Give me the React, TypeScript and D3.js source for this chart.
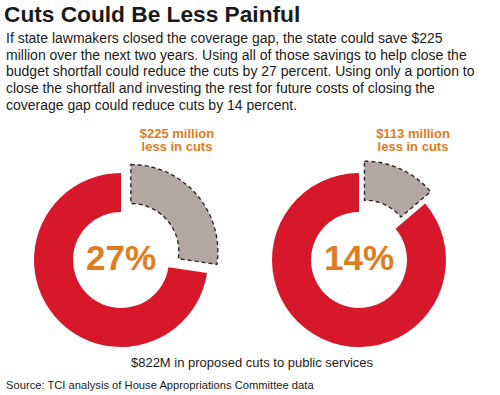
import * as d3 from "d3";

// cuts data ($ millions)
const totalCuts = 822;
const scenarios = ["all", "portion"];
const savings = [225, 113];
const labelLines = [
  ["$225 million", "less in cuts"],
  ["$113 million", "less in cuts"],
];

const title = "Cuts Could Be Less Painful";
const bodyLines = [
  "If state lawmakers closed the coverage gap, the state could save $225",
  "million over the next two years. Using all of those savings to help close the",
  "budget shortfall could reduce the cuts by 27 percent. Using only a portion to",
  "close the shortfall and investing the rest for future costs of closing the",
  "coverage gap could reduce cuts by 14 percent.",
];
const footnote = "$822M in proposed cuts to public services";
const source = "Source: TCI analysis of House Appropriations Committee data";

const width = 500;
const height = 395;
const outerR = 87;
const innerR = 48;
const explode = 13;
const cy = 260;

const red = "#d7182a";
const grey = "#b3a7a3";
const orange = "#e07b1e";
const font = "Liberation Sans, Arial, sans-serif";

const App = () => {
  const x = d3.scalePoint<string>().domain(scenarios).range([121, 359]);

  const pie = d3
    .pie<number>()
    .sort(null)
    .value((d) => d);

  const arc = d3
    .arc<d3.PieArcDatum<number>>()
    .innerRadius(innerR)
    .outerRadius(outerR);

  return (
    <svg
      width={width}
      height={height}
      style={{ position: "absolute", left: 0, top: 0, background: "#fff" }}
      fontFamily={font}
    >
      <text x={4} y={22} fontSize={22.7} fontWeight="bold" fill="#1a1a1a">
        {title}
      </text>
      {bodyLines.map((line, i) => (
        <text key={i} x={6} y={43 + i * 16.7} fontSize={14} fill="#1a1a1a">
          {line}
        </text>
      ))}

      {scenarios.map((s, i) => {
        const slices = pie([savings[i], totalCuts - savings[i]]);
        const pct = Math.round((savings[i] / totalCuts) * 100);
        const cut = slices[0];
        const mid = (cut.startAngle + cut.endAngle) / 2;
        const dx = Math.sin(mid) * explode;
        const dy = -Math.cos(mid) * explode;
        return (
          <g key={s} transform={`translate(${x(s)},${cy})`}>
            <path d={arc(slices[1]) || ""} fill={red} />
            <path
              d={arc(cut) || ""}
              transform={`translate(${dx},${dy})`}
              fill={grey}
              stroke="#2b2b2b"
              strokeWidth={1.4}
              strokeDasharray="4,3"
            />
            <text
              textAnchor="middle"
              y={10}
              fontSize={35}
              fontWeight="bold"
              fill={orange}
            >
              {pct}%
            </text>
            {labelLines[i].map((t, j) => (
              <text
                key={j}
                x={i === 0 ? 56 : 54}
                y={-122.5 + j * 13.5}
                textAnchor="middle"
                fontSize={13}
                fontWeight="bold"
                fill={orange}
              >
                {t}
              </text>
            ))}
          </g>
        );
      })}

      <text x={252} y={367} textAnchor="middle" fontSize={13} fill="#1a1a1a">
        {footnote}
      </text>
      <text x={6} y={389} fontSize={11.2} fill="#1a1a1a">
        {source}
      </text>
    </svg>
  );
};

export default App;
